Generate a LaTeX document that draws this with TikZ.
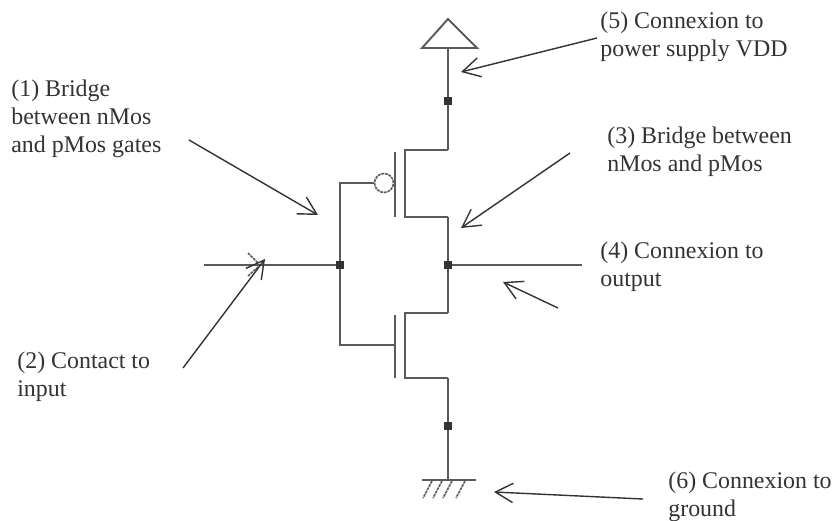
\documentclass[tikz,border=0pt]{standalone}
\usepackage{fontspec}
\setmainfont{Liberation Serif}
\usetikzlibrary{arrows.meta}
\definecolor{wiregray}{HTML}{5A5A5A}
\definecolor{inkgray}{HTML}{333333}
\tikzset{
	wire/.style={draw=wiregray, line width=1.1pt},
	faint/.style={draw=wiregray, line width=0.9pt, dash pattern=on 1.6pt off 0.5pt},
	pointer/.style={draw=inkgray, line width=0.8pt, -{Straight Barb[length=10pt,width=11pt]}},
	junction/.style={fill=inkgray, minimum size=4pt, inner sep=0pt},
	label/.style={anchor=north west, inner sep=0pt, align=left, text=inkgray, font=\fontsize{13.6}{15.9}\selectfont},
}
\newcommand{\mos}[3] % name, top y, bottom y in px
{
	% gate bar
	\coordinate (#1bara) at (395,#2+2);
	\coordinate (#1barb) at (395,#3);
	\draw[wire] (#1bara) -- (#1barb);
	% channel
	\coordinate (#1a) at (405,#2);
	\coordinate (#1b) at (405,#3);
	\coordinate (#1ra) at (448,#2);
	\coordinate (#1rb) at (448,#3);
	\draw[wire] (#1ra) -- (#1a) -- (#1b) -- (#1rb);
}
\begin{document}
\begin{tikzpicture}[x=0.02cm, y=-0.02cm]
	\useasboundingbox (0,0) rectangle (834,520);
	% junctions
	\node[junction] (jvdd) at (448,101) {};
	\node[junction] (jgate) at (340,265) {};
	\node[junction] (jout) at (448,265) {};
	\node[junction] (jgnd) at (448,426) {};
	% pMos, nMos
	\mos{p}{150}{217}
	\mos{n}{313}{378}
	\node[circle, faint, minimum size=10.8pt, inner sep=0pt] (bubble) at (384,183) {};
	% supply triangle
	\coordinate (apex) at (448,19);
	\coordinate (vl) at (422,48);
	\coordinate (vr) at (477,48);
	\coordinate (vmid) at (448,48);
	\draw[wire] (vl) -- (apex) -- (vr) -- cycle;
	% ground
	\coordinate (gl) at (422,480);
	\coordinate (gr) at (476,480);
	\coordinate (gmid) at (448,480);
	\draw[wire] (gl) -- (gr);
	\foreach \top/\bot in {432/423, 442/433, 452/443, 465/456}
		\draw[faint] (\top,481) -- (\bot,498);
	% wires
	\coordinate (in) at (204,265);
	\coordinate (out) at (582,265);
	\coordinate (gp) at (340,183);
	\coordinate (gn) at (340,345);
	\coordinate (gnb) at (395,345);
	\draw[wire] (vmid) -- (jvdd) -- (pra);
	\draw[wire] (prb) -- (jout) -- (nra);
	\draw[wire] (nrb) -- (jgnd) -- (gmid);
	\draw[wire] (in) -- (jgate);
	\draw[wire] (jout) -- (out);
	\draw[wire] (bubble) -- (gp) -- (jgate) -- (gn) -- (gnb);
	% input contact
	\coordinate (ca) at (248,253);
	\coordinate (cb) at (258,263);
	\coordinate (cc) at (248,276);
	\coordinate (cd) at (258,267);
	\draw[faint] (ca) -- (cb);
	\draw[faint] (cc) -- (cd);
	% labels
	\node[label] (bridgegates) at (11,80) {(1) Bridge\\between nMos\\and pMos gates};
	\node[label] (contactin) at (17,352) {(2) Contact to\\input};
	\node[label] (bridgemos) at (607,127) {(3) Bridge between\\nMos and pMos};
	\node[label] (connout) at (600,242) {(4) Connexion to\\output};
	\node[label] (connvdd) at (600,12) {(5) Connexion to\\power supply VDD};
	\node[label] (conngnd) at (668,472) {(6) Connexion to\\ground};
	% arrows
	\coordinate (tailone) at (189,140);
	\coordinate (tipone) at (318,215);
	\coordinate (tailtwo) at (183,368);
	\coordinate (tiptwo) at (265,259);
	\coordinate (tailthree) at (570,153);
	\coordinate (tipthree) at (461,228);
	\coordinate (tailfour) at (558,308);
	\coordinate (tipfour) at (503,282);
	\coordinate (tailfive) at (597,38);
	\coordinate (tipfive) at (461,72);
	\coordinate (tailsix) at (643,499);
	\coordinate (tipsix) at (494,492);
	\draw[pointer] (tailone) -- (tipone);
	\draw[pointer] (tailtwo) -- (tiptwo);
	\draw[pointer] (tailthree) -- (tipthree);
	\draw[pointer] (tailfour) -- (tipfour);
	\draw[pointer] (tailfive) -- (tipfive);
	\draw[pointer] (tailsix) -- (tipsix);
\end{tikzpicture}
\end{document}
